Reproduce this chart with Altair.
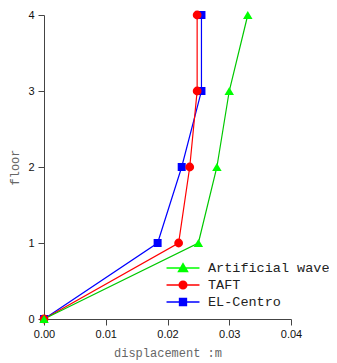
import altair as alt
import pandas as pd

floors = [0, 1, 2, 3, 4]
artificial = [0.0, 0.0250, 0.0280, 0.0300, 0.0330]
taft = [0.0, 0.0218, 0.0236, 0.0248, 0.0248]
elcentro = [0.0, 0.0184, 0.0223, 0.0255, 0.0255]

series_names = ["Artificial wave", "TAFT", "EL-Centro"]
marker_colors = ["#00ff00", "#ff0000", "#0000ff"]
line_colors = ["#00c800", "#ff0000", "#0000ff"]
shapes = ["triangle-up", "circle", "square"]
sizes = [90, 64, 56]
legend_paths = [
    "M-1.83,0H1.83M-0.5,0.4L0,-0.48L0.5,0.4Z",
    "M-1.83,0H1.83M-0.42,0A0.42,0.42 0 1,0 0.42,0A0.42,0.42 0 1,0 -0.42,0Z",
    "M-1.83,0H1.83M-0.38,-0.38H0.38V0.38H-0.38Z",
]

rows = []
# draw order: EL-Centro first, then TAFT, then Artificial wave on top
for name, vals in [("EL-Centro", elcentro), ("TAFT", taft), ("Artificial wave", artificial)]:
    for f, v in zip(floors, vals):
        rows.append({"series": name, "disp": v, "floor": f})
df = pd.DataFrame(rows)

x_ticks = [i * 0.005 for i in range(9)]
y_ticks = [i * 0.5 for i in range(9)]

x_enc = alt.X(
    "disp:Q",
    scale=alt.Scale(domain=[0, 0.04], nice=False, zero=False),
    axis=alt.Axis(
        title="displacement :m",
        values=x_ticks,
        labelExpr="abs(round(datum.value*200) % 2) == 1 ? '' : format(datum.value, '.2f')",
        tickSize={"condition": {"test": "abs(round(datum.value*200) % 2) == 1", "value": 3}, "value": 6},
        labelFlush=False,
        labelOverlap=False,
        grid=False,
        labelFont="Liberation Sans",
        labelFontSize=11,
        labelColor="#111111",
        labelPadding=3,
        titleFont="Liberation Mono",
        titleFontSize=12,
        titleFontWeight="normal",
        titleColor="#666666",
        titlePadding=8,
        domainColor="#444444",
        tickColor="#444444",
    ),
)
y_enc = alt.Y(
    "floor:Q",
    scale=alt.Scale(domain=[0, 4], nice=False, zero=False),
    axis=alt.Axis(
        title="floor",
        values=y_ticks,
        labelExpr="datum.value % 1 == 0 ? format(datum.value, 'd') : ''",
        tickSize={"condition": {"test": "datum.value % 1 != 0", "value": 3}, "value": 6},
        labelFlush=False,
        labelOverlap=False,
        grid=False,
        labelFont="Liberation Sans",
        labelFontSize=11,
        labelColor="#111111",
        labelPadding=4,
        titleFont="Liberation Mono",
        titleFontSize=12,
        titleFontWeight="normal",
        titleColor="#666666",
        titlePadding=6,
        domainColor="#444444",
        tickColor="#444444",
    ),
)

lines = alt.Chart(df).mark_line(strokeWidth=1.2).encode(
    x=x_enc,
    y=y_enc,
    color=alt.Color("series:N", scale=alt.Scale(domain=series_names, range=line_colors), legend=None),
    detail="series:N",
)

points = alt.Chart(df).mark_point(filled=True, opacity=1).encode(
    x="disp:Q",
    y="floor:Q",
    fill=alt.Fill("series:N", scale=alt.Scale(domain=series_names, range=marker_colors), legend=None),
    shape=alt.Shape("series:N", scale=alt.Scale(domain=series_names, range=shapes), legend=None),
    size=alt.Size("series:N", scale=alt.Scale(domain=series_names, range=sizes), legend=None),
)

legend_layer = alt.Chart(df).mark_point(filled=True, opacity=0).encode(
    x="disp:Q",
    y="floor:Q",
    color=alt.Color(
        "series:N",
        scale=alt.Scale(domain=series_names, range=marker_colors),
        legend=alt.Legend(
            title=None,
            orient="none",
            legendX=129,
            legendY=243,
            padding=0,
            symbolSize=324,
            symbolOpacity=1,
            symbolStrokeWidth=1.5,
            labelOffset=15,
            labelFont="Liberation Mono",
            labelFontSize=13.5,
            labelColor="#222222",
            rowPadding=0,
        ),
    ),
    stroke=alt.Stroke("series:N", scale=alt.Scale(domain=series_names, range=marker_colors), legend=None),
    shape=alt.Shape("series:N", scale=alt.Scale(domain=series_names, range=legend_paths), legend=None),
)

chart = (
    alt.layer(lines, points, legend_layer)
    .resolve_scale(shape="independent", color="independent", fill="independent", stroke="independent", size="independent")
    .properties(
        width=247,
        height=304,
        autosize=alt.AutoSizeParams(type="none"),
        padding={"left": 36, "top": 7, "right": 38, "bottom": 41},
        background="white",
    )
    .configure_view(stroke=None)
)

chart.save("out.html", embed_options={"renderer": "svg", "actions": False})
